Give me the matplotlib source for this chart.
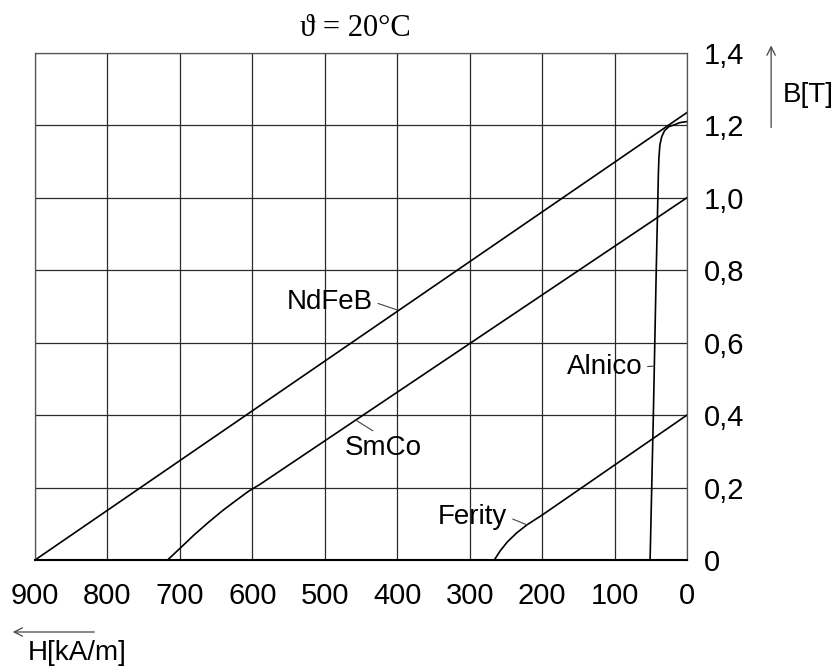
import matplotlib
matplotlib.use("Agg")
import matplotlib.pyplot as plt

plt.rcParams['font.family'] = ['Liberation Sans', 'DejaVu Sans']

# demagnetisation curves, H in kA/m (axis runs 900 -> 0), B in T
ndfeb_h = [900, 0]
ndfeb_b = [0, 1.235]

smco_h = [717, 700, 680, 660, 640, 620, 605, 590, 0]
smco_b = [0, 0.032, 0.07, 0.105, 0.138, 0.168, 0.19, 0.208, 1.0]

ferity_h = [266, 258, 248, 235, 221, 200, 0]
ferity_b = [0, 0.025, 0.05, 0.075, 0.097, 0.124, 0.4]

alnico_h = [51, 46.5, 42.5, 39.5, 38.8, 37.5, 35, 31, 25, 19, 10, 0]
alnico_b = [0, 0.4, 0.8, 1.07, 1.11, 1.145, 1.168, 1.185, 1.196, 1.2, 1.207, 1.21]

x_ticks = [900, 800, 700, 600, 500, 400, 300, 200, 100, 0]
y_ticks = [0, 0.2, 0.4, 0.6, 0.8, 1.0, 1.2, 1.4]
y_labels = ['0', '0,2', '0,4', '0,6', '0,8', '1,0', '1,2', '1,4']

fig = plt.figure(figsize=(8.4, 6.68), dpi=100)
ax = fig.add_axes([0.0417, 0.1617, 0.7762, 0.7594])

ax.set_xlim(900, 0)
ax.set_ylim(0, 1.4)
ax.set_xticks(x_ticks)
ax.set_xticklabels([str(v) for v in x_ticks])
ax.set_yticks(y_ticks)
ax.set_yticklabels(y_labels)
ax.yaxis.tick_right()
ax.tick_params(axis='both', length=0, labelsize=21)
ax.tick_params(axis='x', pad=16)
ax.tick_params(axis='y', pad=12)
ax.grid(True, color='#2a2a2a', linewidth=0.9)
for side in ['left', 'top', 'right']:
    ax.spines[side].set_color('#555555')
    ax.spines[side].set_linewidth(0.9)
ax.spines['bottom'].set_linewidth(1.5)

kw = dict(color='black', linewidth=1.2, clip_on=False)
ax.plot(ndfeb_h, ndfeb_b, **kw)
ax.plot(smco_h, smco_b, **kw)
ax.plot(ferity_h, ferity_b, **kw)
ax.plot(alnico_h, alnico_b, **kw)

# curve labels with leader lines
lead = dict(arrowstyle='-', color='#444444', linewidth=0.8, shrinkA=2, shrinkB=0)
ax.annotate('NdFeB', xy=(400, 0.69), xytext=(434, 0.713), fontsize=20,
            ha='right', va='center', arrowprops=dict(relpos=(1, 0.5), **lead))
ax.annotate('SmCo', xy=(458, 0.387), xytext=(419, 0.309), fontsize=20,
            ha='center', va='center', arrowprops=dict(relpos=(0.45, 1), **lead))
ax.annotate('Ferity', xy=(221, 0.097), xytext=(248, 0.119), fontsize=20,
            ha='right', va='center', arrowprops=dict(relpos=(1, 0.5), **lead))
ax.annotate('Alnico', xy=(45.5, 0.535), xytext=(62, 0.533), fontsize=20,
            ha='right', va='center', arrowprops=dict(relpos=(1, 0.5), **lead))

# title
fig.text(0.4226, 0.958, 'ϑ = 20°C', fontsize=22, ha='center', va='center',
         family=['Liberation Serif', 'DejaVu Serif'])

# axis arrows and labels
fig.patches.append(matplotlib.patches.FancyArrowPatch(
    (0.918, 0.805), (0.918, 0.936), transform=fig.transFigure,
    arrowstyle='->,head_length=6,head_width=3', color='#444444', linewidth=0.9))
fig.text(0.932, 0.858, 'B[T]', fontsize=20, ha='left', va='center')

fig.patches.append(matplotlib.patches.FancyArrowPatch(
    (0.1155, 0.0539), (0.0119, 0.0539), transform=fig.transFigure,
    arrowstyle='->,head_length=6,head_width=3', color='#444444', linewidth=0.9))
fig.text(0.0333, 0.0225, 'H[kA/m]', fontsize=20, ha='left', va='center')

fig.savefig('out.png', dpi=100)
